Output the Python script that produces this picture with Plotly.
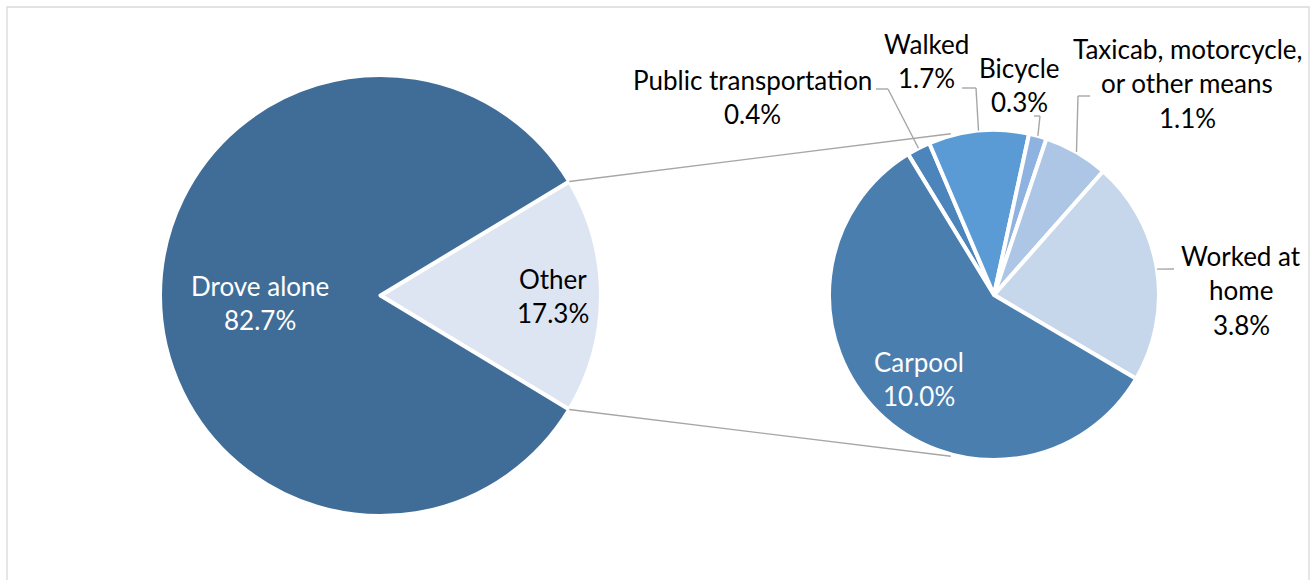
import math
import plotly.graph_objects as go

W, H = 1314, 580

# Commute mode shares (percent of workers)
main_labels = ["Other", "Drove alone"]
main_values = [17.3, 82.7]
main_colors = ["#DEE5F2", "#406D97"]

# Breakdown of "Other", listed clockwise from the top of the small pie
sub_labels = ["Public transportation", "Walked", "Bicycle",
              "Taxicab, motorcycle, or other means", "Worked at home", "Carpool"]
sub_values = [0.4, 1.7, 0.3, 1.1, 3.8, 10.0]
sub_colors = ["#4C84BC", "#5B9BD5", "#8EB3E0", "#ADC6E6", "#C6D7EC", "#4A7EAF"]

# How each category name is wrapped in its label
wrapped_names = {
    "Drove alone": ["Drove alone"],
    "Other": ["Other"],
    "Public transportation": ["Public transportation"],
    "Walked": ["Walked"],
    "Bicycle": ["Bicycle"],
    "Taxicab, motorcycle, or other means": ["Taxicab, motorcycle,", "or other means"],
    "Worked at home": ["Worked at", "home"],
    "Carpool": ["Carpool"],
}

# Pie geometry in pixels (centre x, centre y from top, radius)
L_CX, L_CY, L_R = 380.5, 295.5, 220.5
R_CX, R_CY, R_R = 994.0, 295.0, 165.0

FONT = "Lato"
FSIZE = 26
LINE_H = 34.5
GREY = "#A6A6A6"


def px(x):
    return x / W


def py(y):
    return 1 - y / H


def domain(cx, cy, r):
    return dict(x=[px(cx - r), px(cx + r)], y=[py(cy + r), py(cy - r)])


def edge_point(cx, cy, r, angle_deg):
    a = math.radians(angle_deg)
    return cx + r * math.sin(a), cy - r * math.cos(a)


# "Other" is centred on the 3 o'clock direction of the main pie
other_span = main_values[0] / sum(main_values) * 360
main_rotation = 90 - other_span / 2
sub_rotation = -31.4

fig = go.Figure()
fig.add_trace(go.Pie(
    labels=main_labels, values=main_values, sort=False, direction="clockwise",
    rotation=main_rotation, domain=domain(L_CX, L_CY, L_R),
    marker=dict(colors=main_colors, line=dict(color="white", width=4)),
    textinfo="none", hoverinfo="label+percent", showlegend=False,
))
fig.add_trace(go.Pie(
    labels=sub_labels, values=sub_values, sort=False, direction="clockwise",
    rotation=sub_rotation, domain=domain(R_CX, R_CY, R_R),
    marker=dict(colors=sub_colors, line=dict(color="white", width=4)),
    textinfo="none", hoverinfo="label+value", showlegend=False,
))

shapes = []
annotations = []


def line(x0, y0, x1, y1, color=GREY, width=1.4):
    shapes.append(dict(type="line", xref="paper", yref="paper",
                       x0=px(x0), y0=py(y0), x1=px(x1), y1=py(y1),
                       line=dict(color=color, width=width)))


def label(name, value, cx, cy, color="black"):
    lines = wrapped_names[name] + [f"{value:.1f}%"]
    n = len(lines)
    for i, t in enumerate(lines):
        yy = cy + (i - (n - 1) / 2) * LINE_H
        annotations.append(dict(
            x=px(cx), y=py(yy), xref="paper", yref="paper", text=t,
            showarrow=False, xanchor="center", yanchor="middle",
            font=dict(family=FONT, size=FSIZE, color=color)))


# Chart frame
shapes.append(dict(type="rect", xref="paper", yref="paper",
                   x0=px(7), y0=py(600), x1=px(1309), y1=py(7),
                   line=dict(color="#D9D9D9", width=1.3), layer="below"))

# Connector lines from the "Other" slice edges to the top and bottom of the breakdown pie
for sgn in (-1, 1):
    lx, ly = edge_point(L_CX, L_CY, L_R, 90 + sgn * other_span / 2)
    rx, ry = edge_point(R_CX, R_CY, R_R + 2, 90 + sgn * 105)
    line(lx, ly, rx, ry)

# Mid-angles of the breakdown slices
total = sum(sub_values)
mids = {}
start = sub_rotation
for name, v in zip(sub_labels, sub_values):
    span = v / total * 360
    mids[name] = start + span / 2
    start += span

# Leader lines: slice edge -> elbow -> label
leaders = {
    "Public transportation": [(888, 89), (876, 89)],
    "Walked": [(976, 88), (962, 88)],
    "Bicycle": [(1040, 116), (1034, 116)],
    "Taxicab, motorcycle, or other means": [(1078, 96), (1090, 96)],
    "Worked at home": [(1174, 269)],
}
for name, pts in leaders.items():
    x0, y0 = edge_point(R_CX, R_CY, R_R, mids[name])
    for (x1, y1) in pts:
        line(x0, y0, x1, y1)
        x0, y0 = x1, y1

# Label placements (pixel centres of each text block)
label_pos = {
    "Drove alone": (260, 303, "white"),
    "Other": (553, 296, "black"),
    "Carpool": (919, 379, "white"),
    "Public transportation": (752, 97, "black"),
    "Walked": (926, 61, "black"),
    "Bicycle": (1019, 85, "black"),
    "Taxicab, motorcycle, or other means": (1187, 83, "black"),
    "Worked at home": (1241, 290, "black"),
}
values = dict(zip(main_labels, main_values))
values.update(zip(sub_labels, sub_values))
for name, (cx, cy, col) in label_pos.items():
    label(name, values[name], cx, cy, col)

fig.update_layout(
    width=W, height=H, margin=dict(l=0, r=0, t=0, b=0),
    paper_bgcolor="white", plot_bgcolor="white",
    shapes=shapes, annotations=annotations,
)

fig.write_html("out.html")
